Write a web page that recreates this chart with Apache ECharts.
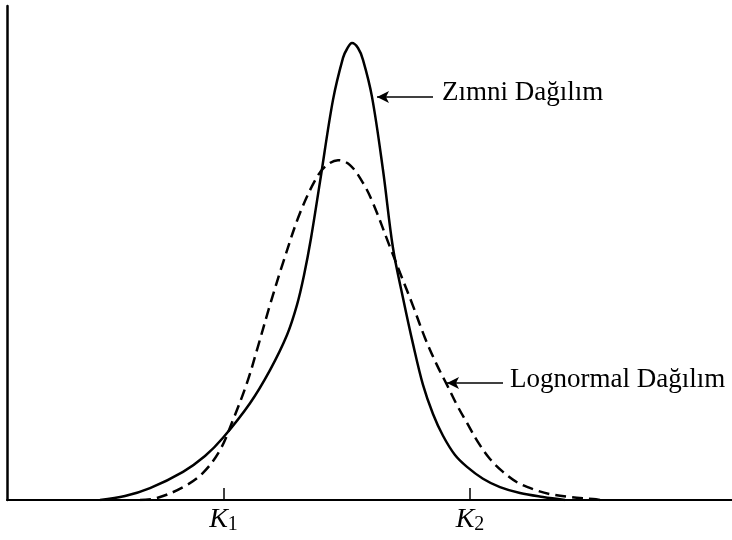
<!DOCTYPE html>
<html>
<head>
<meta charset="utf-8">
<script src="https://cdn.jsdelivr.net/npm/echarts@6/dist/echarts.min.js"></script>
<style>
  html, body { margin: 0; padding: 0; background: #fff; }
  #main { width: 732px; height: 540px; }
</style>
</head>
<body>
<div id="main"></div>
<script>
// Zımni (implied) dağılım - solid curve
var zimniX = [18.6, 23.6, 28.6, 35.2, 39.6, 43.2, 48.6, 52.6, 56.0, 58.0, 59.4, 60.8, 62.6, 65.2, 67.2, 68.0, 69.0, 70.2, 71.2, 73.0, 75.2, 77.2, 79.2, 81.2, 83.2, 85.2, 87.2, 89.6, 92.0, 95.2, 98.6, 102.6, 107.2, 111.6];
var zimniY = [0, 0.8, 2.4, 5.7, 8.9, 12.6, 19.6, 26.3, 33.4, 39.5, 45.5, 53.0, 64.4, 81.0, 89.5, 91.3, 92.5, 91.5, 89.1, 81.6, 66.8, 51.0, 40.9, 31.6, 23.3, 17.4, 13.0, 9.1, 6.7, 4.3, 2.6, 1.4, 0.6, 0];

// Lognormal dağılım - dashed curve
var lognormalX = [26.6, 30.0, 35.2, 39.2, 42.6, 45.2, 48.0, 50.0, 52.6, 55.2, 58.6, 62.0, 64.0, 66.2, 68.6, 71.2, 73.2, 76.6, 78.6, 81.2, 83.6, 86.0, 88.0, 90.0, 92.0, 94.2, 96.6, 99.2, 102.0, 105.2, 108.6, 112.6, 117.2, 118.6];
var lognormalY = [0, 0.4, 2.6, 5.5, 10.1, 16.2, 23.7, 30.4, 39.5, 48.0, 58.1, 65.4, 67.8, 68.8, 67.8, 64.2, 60.1, 51.2, 46.0, 39.3, 32.8, 27.3, 23.3, 19.2, 15.6, 11.7, 8.3, 5.7, 3.6, 2.2, 1.2, 0.6, 0.2, 0];

// K1, K2 ticks on x axis
var tickValues = [43.3, 92.6];
var tickLabels = ['1', '2'];

function pairs(xs, ys) {
  return xs.map(function (x, i) { return [x, ys[i]]; });
}

var serif = '"Liberation Serif", "DejaVu Serif", serif';

var chart = echarts.init(document.getElementById('main'));
var option = {
  backgroundColor: '#fff',
  animation: false,
  grid: { left: 7, right: 0, top: 6, bottom: 40, containLabel: false },
  xAxis: {
    type: 'value',
    min: 0,
    max: 145,
    axisLine: { show: true, lineStyle: { color: '#000', width: 2 } },
    axisTick: {
      show: true,
      inside: true,
      length: 12,
      customValues: tickValues,
      lineStyle: { color: '#000', width: 1.5 }
    },
    axisLabel: {
      show: true,
      margin: 5,
      customValues: tickValues,
      formatter: function (v) {
        var i = tickValues.indexOf(v);
        return '{k|K}{s|' + tickLabels[i] + '}';
      },
      rich: {
        k: { fontFamily: serif, fontStyle: 'italic', fontSize: 28, lineHeight: 30, color: '#000' },
        s: { fontFamily: serif, fontSize: 20, lineHeight: 14, verticalAlign: 'bottom', color: '#000' }
      }
    },
    splitLine: { show: false }
  },
  yAxis: {
    type: 'value',
    min: 0,
    max: 100,
    axisLine: { show: true, lineStyle: { color: '#000', width: 2.5 } },
    axisTick: { show: false },
    axisLabel: { show: false },
    splitLine: { show: false }
  },
  series: [
    {
      name: 'Zımni Dağılım',
      type: 'line',
      smooth: 0.35,
      symbol: 'none',
      data: pairs(zimniX, zimniY),
      lineStyle: { color: '#000', width: 2.5 },
      markLine: {
        silent: true,
        symbol: ['none', 'arrow'],
        symbolSize: [9, 12],
        lineStyle: { color: '#000', width: 1.5, type: 'solid' },
        label: { show: false },
        data: [[{ coord: [85.2, 81.6] }, { coord: [74.0, 81.6] }]]
      },
      markPoint: {
        silent: true,
        symbol: 'circle',
        symbolSize: 0,
        label: {
          show: true, position: 'right', distance: 0,
          formatter: 'Zımni Dağılım',
          fontFamily: serif, fontSize: 27, color: '#000'
        },
        data: [{ coord: [87.0, 82.5] }]
      }
    },
    {
      name: 'Lognormal Dağılım',
      type: 'line',
      smooth: 0.35,
      symbol: 'none',
      data: pairs(lognormalX, lognormalY),
      lineStyle: { color: '#000', width: 2.5, type: [11, 6] },
      markLine: {
        silent: true,
        symbol: ['none', 'arrow'],
        symbolSize: [9, 12],
        lineStyle: { color: '#000', width: 1.5, type: 'solid' },
        label: { show: false },
        data: [[{ coord: [99.2, 23.7] }, { coord: [88.0, 23.7] }]]
      },
      markPoint: {
        silent: true,
        symbol: 'circle',
        symbolSize: 0,
        label: {
          show: true, position: 'right', distance: 0,
          formatter: 'Lognormal Dağılım',
          fontFamily: serif, fontSize: 27, color: '#000'
        },
        data: [{ coord: [100.6, 24.3] }]
      }
    }
  ]
};
chart.setOption(option);
</script>
</body>
</html>
